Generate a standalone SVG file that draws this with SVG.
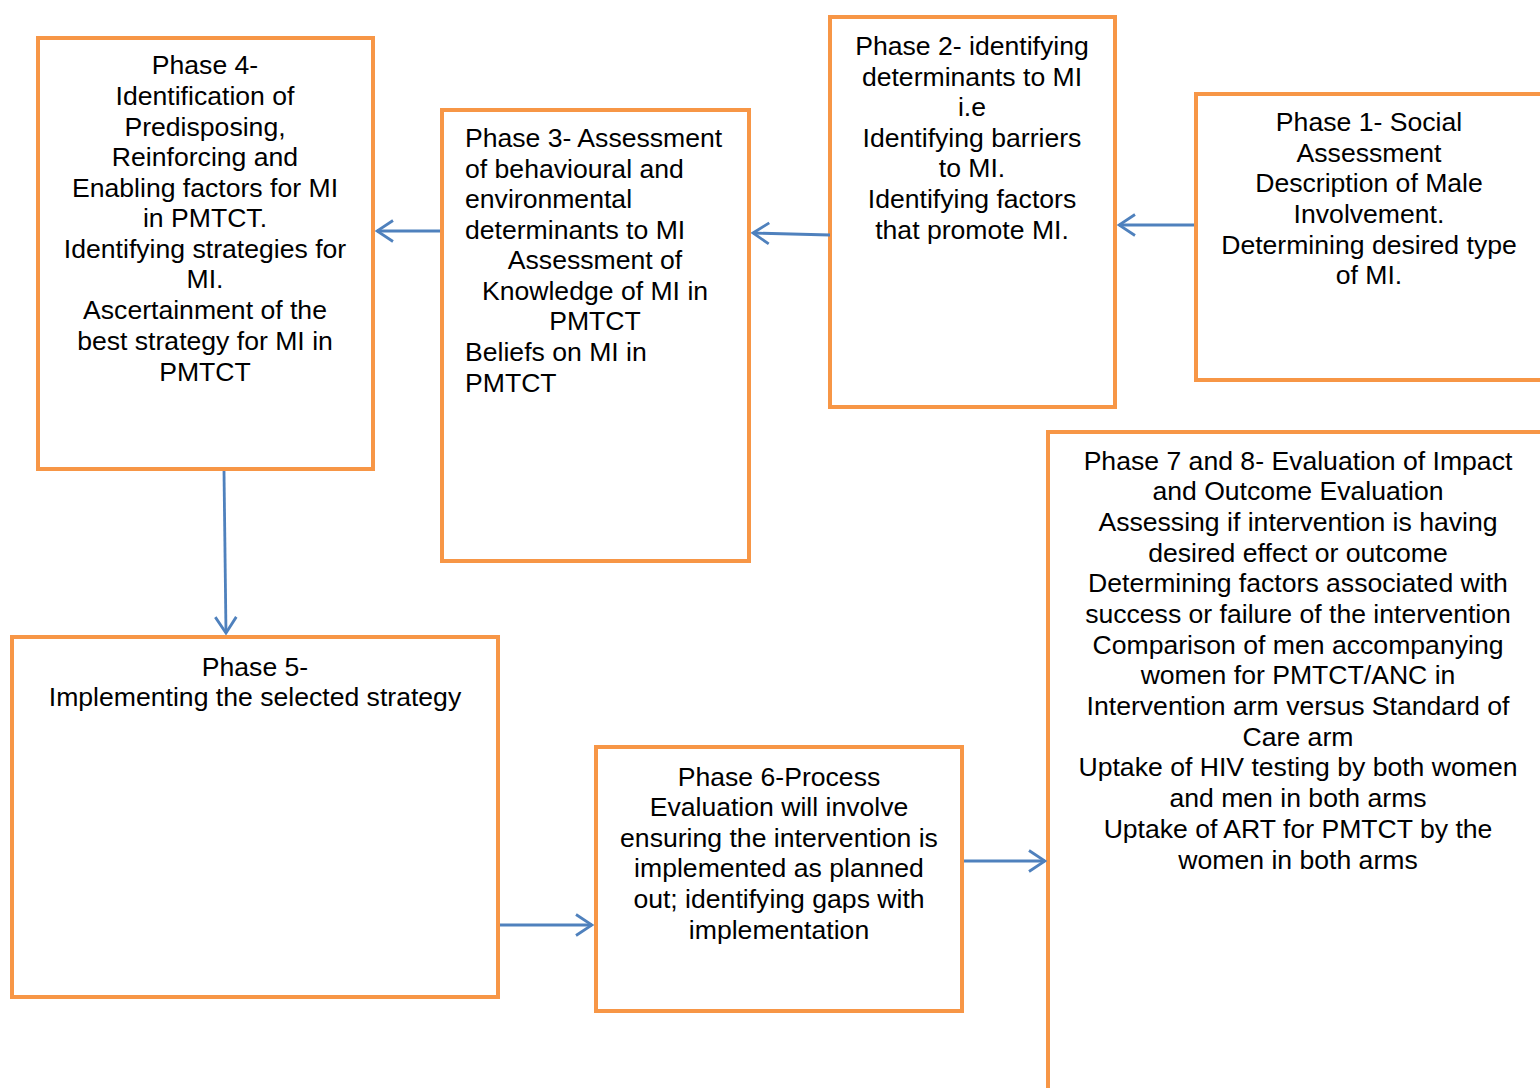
<svg xmlns="http://www.w3.org/2000/svg" width="1540" height="1088" viewBox="0 0 1540 1088">
<defs>
<style>
.box{fill:#fff;stroke:#F79646;stroke-width:4}
.t{font-family:"Liberation Sans",Arial,sans-serif;font-size:26.6px;fill:#000}
.c{text-anchor:middle}
.conn line{stroke:#4F81BD;stroke-width:2.8}
</style>
<marker id="ah" viewBox="0 0 24 24" refX="22" refY="12" markerWidth="24" markerHeight="24" markerUnits="userSpaceOnUse" orient="auto">
<path d="M6,1.5 L22,12 L6,22.5" fill="none" stroke="#4F81BD" stroke-width="2.8"/>
</marker>
</defs>
<rect width="1540" height="1088" fill="#fff"/>
<g id="phase4">
<rect class="box" x="38" y="38" width="335" height="431"/>
<text class="t c" x="205"><tspan x="205" y="74">Phase 4-</tspan><tspan x="205" y="105">Identification of</tspan><tspan x="205" y="136">Predisposing,</tspan><tspan x="205" y="166">Reinforcing and</tspan><tspan x="205" y="197">Enabling factors for MI</tspan><tspan x="205" y="227">in PMTCT.</tspan><tspan x="205" y="258">Identifying strategies for</tspan><tspan x="205" y="288">MI.</tspan><tspan x="205" y="319">Ascertainment of the</tspan><tspan x="205" y="350">best strategy for MI in</tspan><tspan x="205" y="381">PMTCT</tspan></text>
</g>
<g id="phase3">
<rect class="box" x="442" y="110" width="307" height="451"/>
<text class="t"><tspan x="465" y="147">Phase 3- Assessment</tspan><tspan x="465" y="178">of behavioural and</tspan><tspan x="465" y="208">environmental</tspan><tspan x="465" y="239">determinants to MI</tspan></text>
<text class="t c"><tspan x="595" y="269">Assessment of</tspan><tspan x="595" y="300">Knowledge of MI in</tspan><tspan x="595" y="330">PMTCT</tspan></text>
<text class="t"><tspan x="465" y="361">Beliefs on MI in</tspan><tspan x="465" y="392">PMTCT</tspan></text>
</g>
<g id="phase2">
<rect class="box" x="830" y="17" width="285" height="390"/>
<text class="t c"><tspan x="972" y="55">Phase 2- identifying</tspan><tspan x="972" y="86">determinants to MI</tspan><tspan x="972" y="116">i.e</tspan><tspan x="972" y="147">Identifying barriers</tspan><tspan x="972" y="177">to MI.</tspan><tspan x="972" y="208">Identifying factors</tspan><tspan x="972" y="239">that promote MI.</tspan></text>
</g>
<g id="phase1">
<rect class="box" x="1196" y="94" width="360" height="286"/>
<text class="t c"><tspan x="1369" y="131">Phase 1- Social</tspan><tspan x="1369" y="162">Assessment</tspan><tspan x="1369" y="192">Description of Male</tspan><tspan x="1369" y="223">Involvement.</tspan><tspan x="1369" y="254">Determining desired type</tspan><tspan x="1369" y="284">of MI.</tspan></text>
</g>
<g id="phase78">
<rect class="box" x="1048" y="432" width="510" height="680"/>
<text class="t c"><tspan x="1298" y="470">Phase 7 and 8- Evaluation of Impact</tspan><tspan x="1298" y="500">and Outcome Evaluation</tspan><tspan x="1298" y="531">Assessing if intervention is having</tspan><tspan x="1298" y="562">desired effect or outcome</tspan><tspan x="1298" y="592">Determining factors associated with</tspan><tspan x="1298" y="623">success or failure of the intervention</tspan><tspan x="1298" y="654">Comparison of men accompanying</tspan><tspan x="1298" y="684">women for PMTCT/ANC in</tspan><tspan x="1298" y="715">Intervention arm versus Standard of</tspan><tspan x="1298" y="746">Care arm</tspan><tspan x="1298" y="776">Uptake of HIV testing by both women</tspan><tspan x="1298" y="807">and men in both arms</tspan><tspan x="1298" y="838">Uptake of ART for PMTCT by the</tspan><tspan x="1298" y="869">women in both arms</tspan></text>
</g>
<g id="phase5">
<rect class="box" x="12" y="637" width="486" height="360"/>
<text class="t c"><tspan x="255" y="676">Phase 5-</tspan><tspan x="255" y="706">Implementing the selected strategy</tspan></text>
</g>
<g id="phase6">
<rect class="box" x="596" y="747" width="366" height="264"/>
<text class="t c"><tspan x="779" y="786">Phase 6-Process</tspan><tspan x="779" y="816">Evaluation will involve</tspan><tspan x="779" y="847">ensuring the intervention is</tspan><tspan x="779" y="877">implemented as planned</tspan><tspan x="779" y="908">out; identifying gaps with</tspan><tspan x="779" y="939">implementation</tspan></text>
</g>
<g id="connectors" class="conn">
<line x1="440" y1="231" x2="377" y2="231" marker-end="url(#ah)"/>
<line x1="830" y1="235" x2="753" y2="233" marker-end="url(#ah)"/>
<line x1="1194" y1="225" x2="1119" y2="225" marker-end="url(#ah)"/>
<line x1="224" y1="471" x2="226" y2="633" marker-end="url(#ah)"/>
<line x1="500" y1="925" x2="592" y2="925" marker-end="url(#ah)"/>
<line x1="964" y1="861" x2="1045" y2="861" marker-end="url(#ah)"/>
</g>
</svg>
